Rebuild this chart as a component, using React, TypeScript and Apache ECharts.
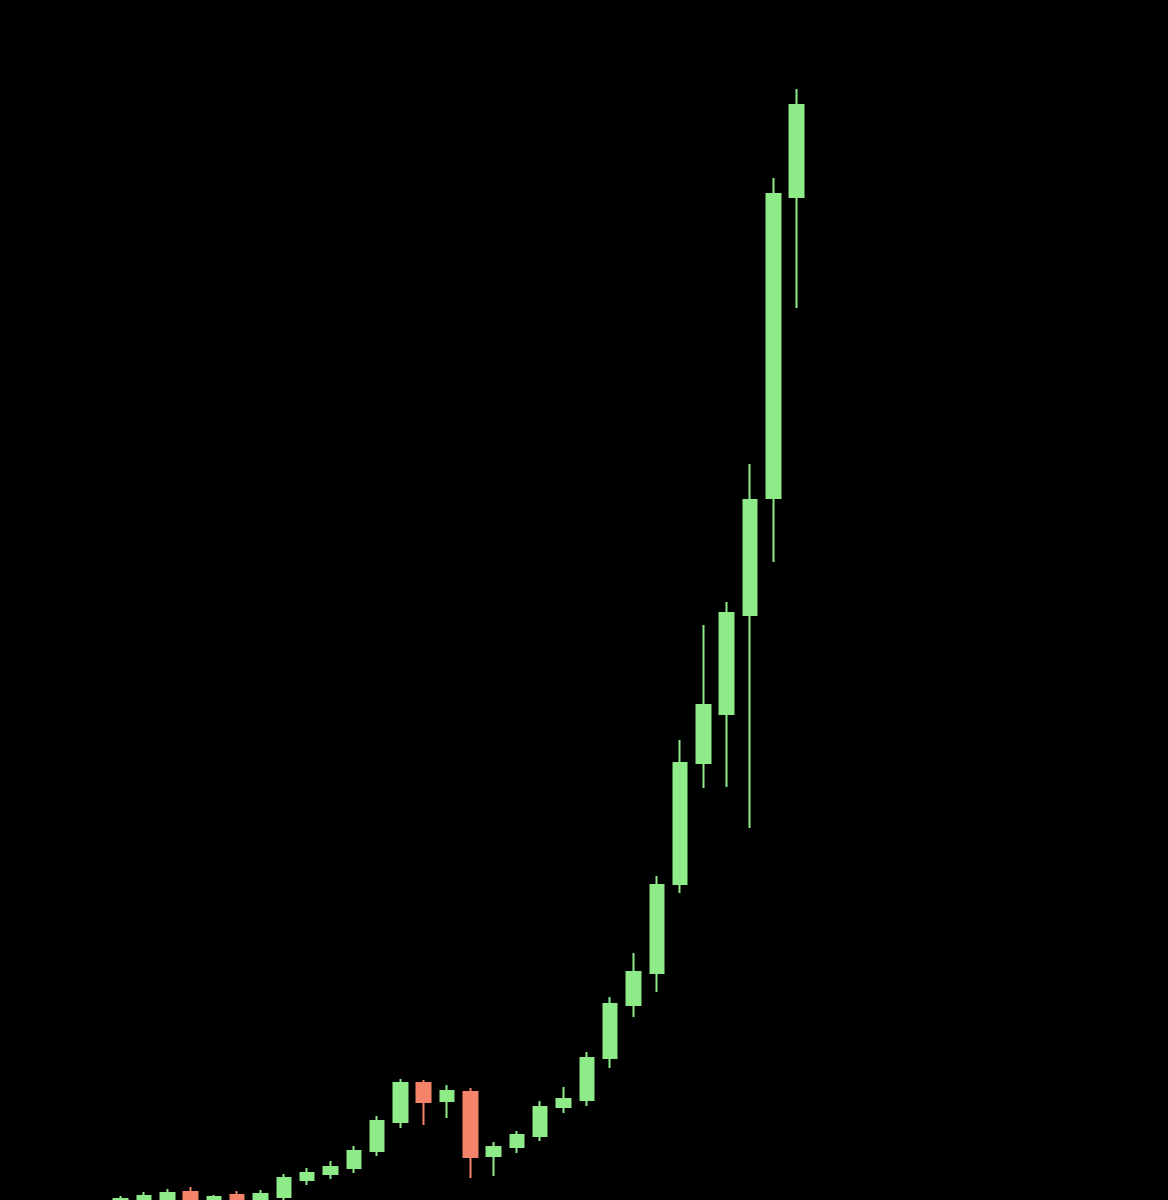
import React, { useEffect, useRef } from "react";
import * as echarts from "echarts";

const periods = Array.from({ length: 30 }, (_, i) => `P${i + 1}`);
// [open, close, low, high]
const opens = [-3, -3, -2, 8, 1, 5, -3, 3, 20, 26, 32, 49, 78, 117, 99, 108, 44, 53, 64, 93, 100, 142, 195, 227, 316, 437, 486, 585, 702, 1003];
const closes = [1, 4, 7, -3, 3, -3, 6, 22, 27, 33, 49, 79, 117, 98, 109, 43, 53, 65, 93, 101, 142, 196, 228, 315, 437, 495, 587, 700, 1006, 1095];
const lows = [-6, -6, -5, -6, -2, -6, -6, -5, 15, 21, 27, 44, 72, 75, 82, 22, 24, 47, 59, 87, 94, 132, 183, 208, 307, 412, 413, 372, 638, 892];
const highs = [4, 8, 11, 13, 5, 9, 10, 26, 32, 39, 54, 84, 121, 120, 115, 112, 58, 69, 99, 113, 148, 203, 247, 324, 460, 575, 598, 736, 1022, 1111];

const UP = "#8EEC88";
const DOWN = "#F4836A";

export default function App() {
  const ref = useRef<HTMLDivElement>(null);
  useEffect(() => {
    if (!ref.current) return;
    const chart = echarts.init(ref.current, undefined, { renderer: "svg" });
    const data = opens.map((o, i) => [o, closes[i], lows[i], highs[i]]);
    chart.setOption({
      animation: false,
      backgroundColor: "#000000",
      grid: { left: 109, right: 359.7, top: 0, bottom: 0 },
      xAxis: {
        type: "category",
        data: periods,
        boundaryGap: true,
        show: false,
      },
      yAxis: {
        type: "value",
        min: -30,
        max: 1200,
        show: false,
        splitLine: { show: false },
      },
      series: [
        {
          type: "candlestick",
          data,
          barWidth: 14,
          itemStyle: {
            color: UP,
            color0: DOWN,
            borderColor: UP,
            borderColor0: DOWN,
            borderWidth: 2,
          },
        },
      ],
    });
    return () => chart.dispose();
  }, []);
  return (
    <div
      style={{
        position: "fixed",
        left: 0,
        top: 0,
        width: 1168,
        height: 1200,
        overflow: "hidden",
        background: "#000",
      }}
    >
      <div ref={ref} style={{ width: 1168, height: 1230 }} />
    </div>
  );
}
